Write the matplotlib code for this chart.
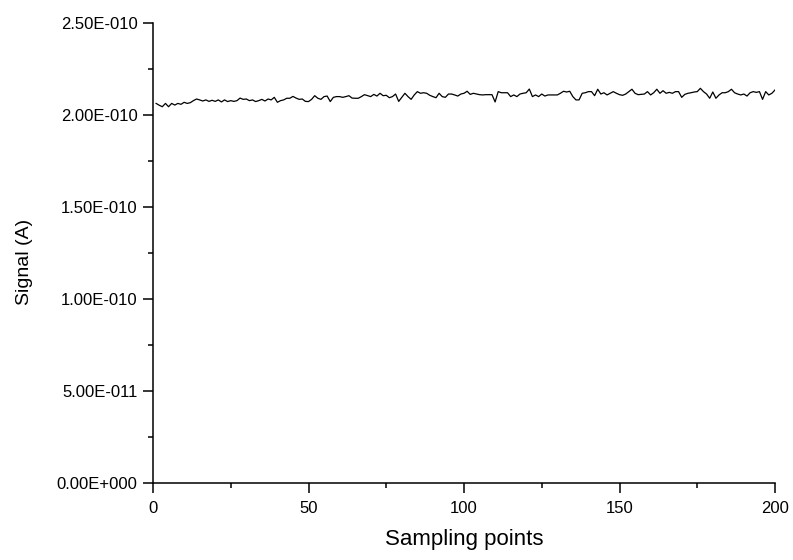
import matplotlib
matplotlib.use("Agg")
import matplotlib.pyplot as plt
from matplotlib.ticker import MultipleLocator, FuncFormatter

plt.rcParams['font.family'] = ['Liberation Sans', 'DejaVu Sans']

# Sampling point indices and measured current (in units of 1E-12 A)
samples = list(range(1, 201))
signal_pA = [
    206.3, 205.3, 204.5, 206.3, 204.5, 206.3, 205.4, 206.3, 205.8, 206.9,
    206.3, 206.7, 207.8, 208.7, 208.2, 207.6, 208.2, 207.4, 208.0, 207.4,
    208.2, 207.1, 208.2, 207.3, 207.8, 207.4, 207.8, 209.2, 208.5, 208.7,
    207.8, 208.2, 207.3, 207.8, 208.5, 207.6, 208.7, 208.2, 209.6, 206.9,
    207.8, 208.2, 209.1, 209.1, 210.1, 209.2, 208.5, 208.7, 207.4, 207.3,
    208.5, 210.5, 209.1, 208.5, 210.0, 210.3, 207.3, 209.6, 210.0, 210.0,
    209.6, 210.0, 210.5, 209.2, 209.1, 209.1, 210.0, 211.05, 210.5, 210.0,
    211.2, 210.3, 211.8, 210.5, 210.7, 209.4, 210.0, 211.4, 207.4, 209.6,
    211.8, 210.0, 208.5, 210.9, 212.7, 211.8, 212.1, 211.8, 210.7, 210.0,
    209.4, 211.8, 210.0, 209.6, 211.4, 211.4, 210.9, 210.3, 211.4, 211.8,
    212.9, 211.2, 211.8, 211.4, 211.05, 210.9, 211.05, 211.05, 211.05, 207.1,
    212.7, 212.1, 212.1, 212.1, 210.0, 210.9, 210.0, 211.4, 211.8, 212.1,
    214.1, 210.0, 210.9, 210.0, 211.4, 210.3, 210.9, 210.9, 210.9, 210.9,
    211.8, 212.9, 212.5, 212.9, 210.0, 208.2, 208.2, 211.8, 212.1, 212.7,
    212.7, 210.5, 214.0, 211.4, 212.1, 210.9, 211.8, 212.7, 211.8, 211.05,
    210.7, 211.4, 212.7, 214.0, 211.8, 211.05, 211.2, 211.4, 212.7, 210.9,
    212.1, 214.0, 211.8, 213.2, 211.8, 212.3, 211.8, 212.7, 212.7, 209.6,
    211.2, 211.8, 212.1, 212.5, 212.7, 214.5, 212.7, 211.4, 209.1, 212.5,
    209.1, 210.9, 212.1, 212.1, 212.7, 214.0, 212.1, 211.4, 210.9, 211.4,
    210.3, 212.1, 212.7, 212.3, 212.7, 208.5, 212.7, 210.9, 211.8, 213.6,
]
signal = [v * 1e-12 for v in signal_pA]

x_ticks = [0, 50, 100, 150, 200]
y_ticks = [0.0, 5e-11, 1e-10, 1.5e-10, 2e-10, 2.5e-10]


def origin_sci(v, pos=None):
    # Scientific notation with a signed three-digit exponent, e.g. 2.50E-010
    if v == 0:
        return "0.00E+000"
    s = f"{v:.2E}"
    mant, exp = s.split("E")
    e = int(exp)
    sign = "-" if e < 0 else "+"
    return f"{mant}E{sign}{abs(e):03d}"


fig = plt.figure(figsize=(7.93, 5.60), dpi=100)
ax = fig.add_axes([153 / 793, 1 - 483 / 560, (775 - 153) / 793, (483 - 23) / 560])

ax.plot(samples, signal, color="black", linewidth=0.9)

ax.set_xlim(0, 200)
ax.set_ylim(0, 2.5e-10)
ax.set_xticks(x_ticks)
ax.set_yticks(y_ticks)
ax.xaxis.set_minor_locator(MultipleLocator(25))
ax.yaxis.set_minor_locator(MultipleLocator(2.5e-11))
ax.yaxis.set_major_formatter(FuncFormatter(origin_sci))

for side in ("top", "right"):
    ax.spines[side].set_visible(False)
for side in ("left", "bottom"):
    ax.spines[side].set_linewidth(1.1)

ax.tick_params(which="major", direction="out", length=7, width=1.1, labelsize=12)
ax.tick_params(axis="x", which="major", pad=6)
ax.tick_params(axis="y", which="major", pad=4)
ax.tick_params(which="minor", direction="out", length=3.5, width=1.1)

ax.set_xlabel("Sampling points", fontsize=16)
ax.set_ylabel("Signal (A)", fontsize=14)
ax.xaxis.set_label_coords(0.5, -0.1)
ax.yaxis.set_label_coords(-0.193, 0.48)

fig.savefig("out.png", dpi=100)
